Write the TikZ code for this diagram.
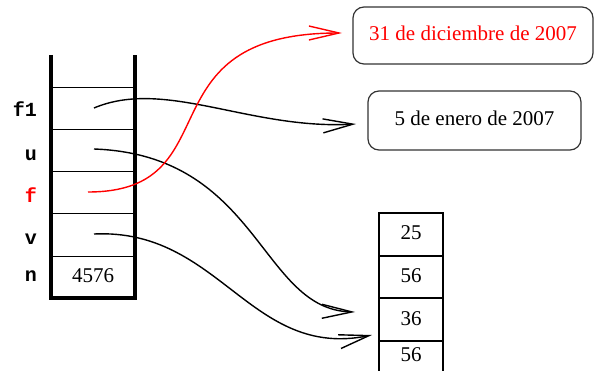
\documentclass[tikz,border=0pt]{standalone}
\usepackage{fontspec}
\setmainfont{Liberation Serif}
\setmonofont{Liberation Mono}
\usetikzlibrary{arrows.meta}
\begin{document}
\begin{tikzpicture}[x=1pt,y=-1pt,
  every node/.style={font=\fontsize{21}{25}\selectfont, inner sep=0pt},
  lbl/.style={font=\fontsize{20}{24}\selectfont\ttfamily\bfseries, anchor=base east},
  val/.style={anchor=base},
  datebox/.style={draw=black!80, line width=1.2pt, rounded corners=11pt, text height=14pt, text depth=4pt},
  wall/.style={line width=4pt},
  sep/.style={line width=0.9pt},
  cellline/.style={line width=1.1pt},
  ptr/.style={line width=1.4pt, -{Straight Barb[length=30pt,width=14pt]}}
]
\useasboundingbox (0,0) rectangle (594,371);

% stack frame
\draw[wall] (51,55) -- (51,298) -- (135,298) -- (135,55);
\foreach \yy in {87,129,171,213,256} \draw[sep] (51,\yy) -- (135,\yy);

% labels
\node[lbl] (lf1) at (37,117) {f1};
\node[lbl] (lu) at (37,161) {u};
\node[lbl, text=red] (lf) at (37,203) {f};
\node[lbl] (lv) at (37,245) {v};
\node[lbl] (ln) at (37,282) {n};
\node[val] (nval) at (93,283) {4576};

% date boxes
\node[datebox, minimum width=240pt, minimum height=57pt, text=red] (d1) at (473,35.5) {31 de diciembre de 2007};
\node[datebox, minimum width=213pt, minimum height=59pt] (d2) at (474.5,120.5) {5 de enero de 2007};

% array
\draw[cellline] (379,371) -- (379,213) -- (443,213) -- (443,371);
\foreach \yy in {256,298,341} \draw[cellline] (379,\yy) -- (443,\yy);
\node[val] (a1) at (411,240) {25};
\node[val] (a2) at (411,283) {56};
\node[val] (a3) at (411,325) {36};
\node[val] (a4) at (411,361) {56};

% pointer coordinates
\coordinate (f1s) at (94,108);
\coordinate (us) at (94,149);
\coordinate (fs) at (88,192);
\coordinate (vs) at (94,234);
\coordinate (f1e) at (356,124);
\coordinate (ue) at (355,312);
\coordinate (ve) at (372,335);
\coordinate (fe) at (342,33);

% pointers
\draw[ptr] (f1s) .. controls (165,78) and (250,130) .. (f1e);
\draw[ptr] (us) .. controls (260,155) and (260,310) .. (ue);
\draw[ptr] (vs) .. controls (220,228) and (250,360) .. (ve);
\draw[ptr, red] (fs) .. controls (234,192) and (139,33) .. (fe);
\end{tikzpicture}
\end{document}
